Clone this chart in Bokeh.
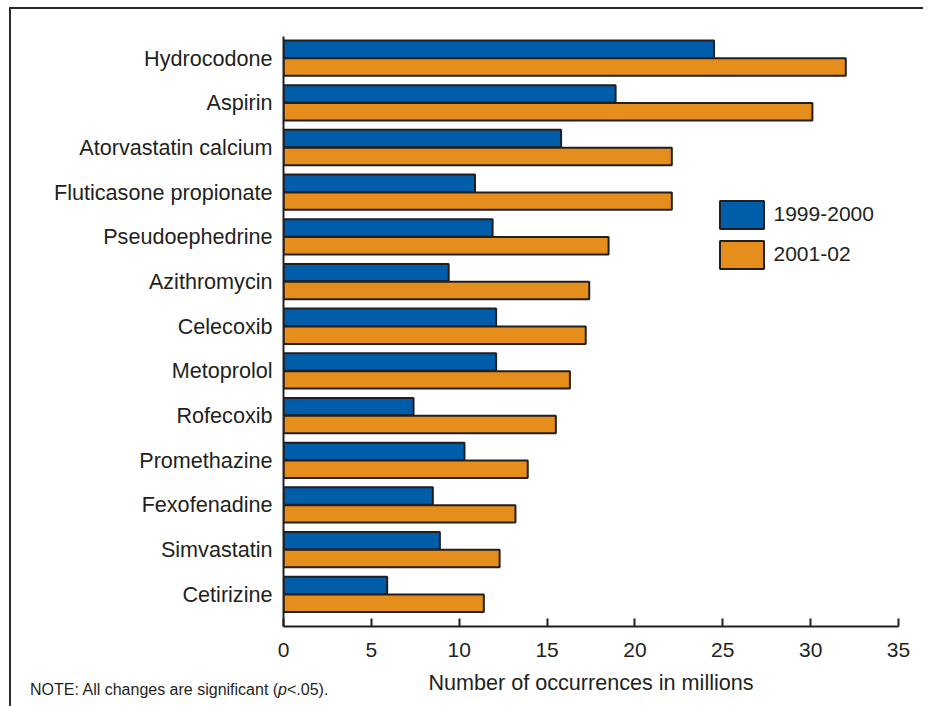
import numpy as np
from bokeh.plotting import figure
from bokeh.layouts import column
from bokeh.models import Range1d, FixedTicker, ColumnDataSource, Div
from bokeh.transform import dodge
from bokeh.embed import file_html
from bokeh.resources import INLINE

# ---- data ----
drugs = ["Hydrocodone", "Aspirin", "Atorvastatin calcium", "Fluticasone propionate",
         "Pseudoephedrine", "Azithromycin", "Celecoxib", "Metoprolol", "Rofecoxib",
         "Promethazine", "Fexofenadine", "Simvastatin", "Cetirizine"]
occ_1999_2000 = [24.5, 18.9, 15.8, 10.9, 11.9, 9.4, 12.1, 12.1, 7.4, 10.3, 8.5, 8.9, 5.9]
occ_2001_02 = [32.0, 30.1, 22.1, 22.1, 18.5, 17.4, 17.2, 16.3, 15.5, 13.9, 13.2, 12.3, 11.4]
series_labels = ["1999-2000", "2001-02"]
x_ticks = [0, 5, 10, 15, 20, 25, 30, 35]
x_label = "Number of occurrences in millions"
note_html = "NOTE: All changes are significant (<i>p</i>&lt;.05)."

BLUE = "#005DAA"
ORANGE = "#E58E1B"
EDGE = "#231F20"
TXT = "#231F20"
FONT = "Liberation Sans"
FRAME = "#2b2b2b"

n = len(drugs)
src = ColumnDataSource(dict(idx=list(range(n)), drug=drugs,
                            a=occ_1999_2000, b=occ_2001_02))

p = figure(width=915, height=699,
           x_range=Range1d(0, 35), y_range=Range1d(n - 1 + 0.72, -0.484),
           output_backend="svg", toolbar_location=None,
           min_border_left=275, min_border_right=25,
           min_border_top=29, min_border_bottom=80,
           margin=(7, 0, 0, 8))
p.border_fill_color = None
p.background_fill_color = None

p.hbar(y=dodge("idx", -0.2), left=0, right="a", height=0.39, source=src,
       fill_color=BLUE, line_color=EDGE, line_width=2, legend_label=series_labels[0])
p.hbar(y=dodge("idx", 0.2), left=0, right="b", height=0.39, source=src,
       fill_color=ORANGE, line_color=EDGE, line_width=2, legend_label=series_labels[1])

p.grid.visible = False
p.outline_line_color = None

for ax in (p.xaxis, p.yaxis):
    ax.axis_line_width = 2
    ax.axis_line_color = EDGE
    ax.minor_tick_line_color = None
    ax.major_label_text_font = FONT
    ax.major_label_text_color = TXT

p.xaxis.major_label_text_font_size = "21px"
p.yaxis.major_label_text_font_size = "21.6px"

p.xaxis.ticker = FixedTicker(ticks=x_ticks)
p.xaxis.major_tick_in = 8
p.xaxis.major_tick_out = 0
p.xaxis.major_tick_line_width = 2
p.xaxis.major_tick_line_color = EDGE
p.xaxis.major_label_standoff = 16
p.xaxis.axis_label = x_label
p.xaxis.axis_label_text_font = FONT
p.xaxis.axis_label_text_font_size = "21.6px"
p.xaxis.axis_label_text_font_style = "normal"
p.xaxis.axis_label_text_color = TXT
p.xaxis.axis_label_standoff = 10

p.yaxis.ticker = FixedTicker(ticks=list(range(n)))
p.yaxis.major_label_overrides = {i: d for i, d in enumerate(drugs)}
p.yaxis.major_tick_line_color = None
p.yaxis.major_tick_in = 0
p.yaxis.major_tick_out = 0
p.yaxis.major_label_standoff = 11

lg = p.legend[0]
lg.location = (430.5, 354.5)
lg.border_line_color = None
lg.background_fill_alpha = 0
lg.padding = 0
lg.margin = 0
lg.spacing = 5
lg.glyph_width = 55
lg.glyph_height = 35
lg.label_height = 35
lg.label_standoff = 5
lg.label_text_font = FONT
lg.label_text_font_size = "21px"
lg.label_text_color = TXT

note = Div(text=note_html, width=400, height=20,
           styles={"margin-top": "-25px", "margin-left": "30px",
                   "font-family": FONT, "font-size": "16px", "color": TXT,
                   "line-height": "18px", "white-space": "nowrap"})

# outer frame of the exhibit: only its left and top edges fall inside the window
layout = column(p, note, spacing=0,
                styles={"overflow": "hidden",
                        "background-color": "white",
                        "background-image": f"linear-gradient({FRAME},{FRAME}), linear-gradient({FRAME},{FRAME})",
                        "background-size": "2px 100%, 100% 2px",
                        "background-position": "9px 7px, 9px 7px",
                        "background-repeat": "no-repeat"})
open("out.html", "w").write(file_html(layout, INLINE))
